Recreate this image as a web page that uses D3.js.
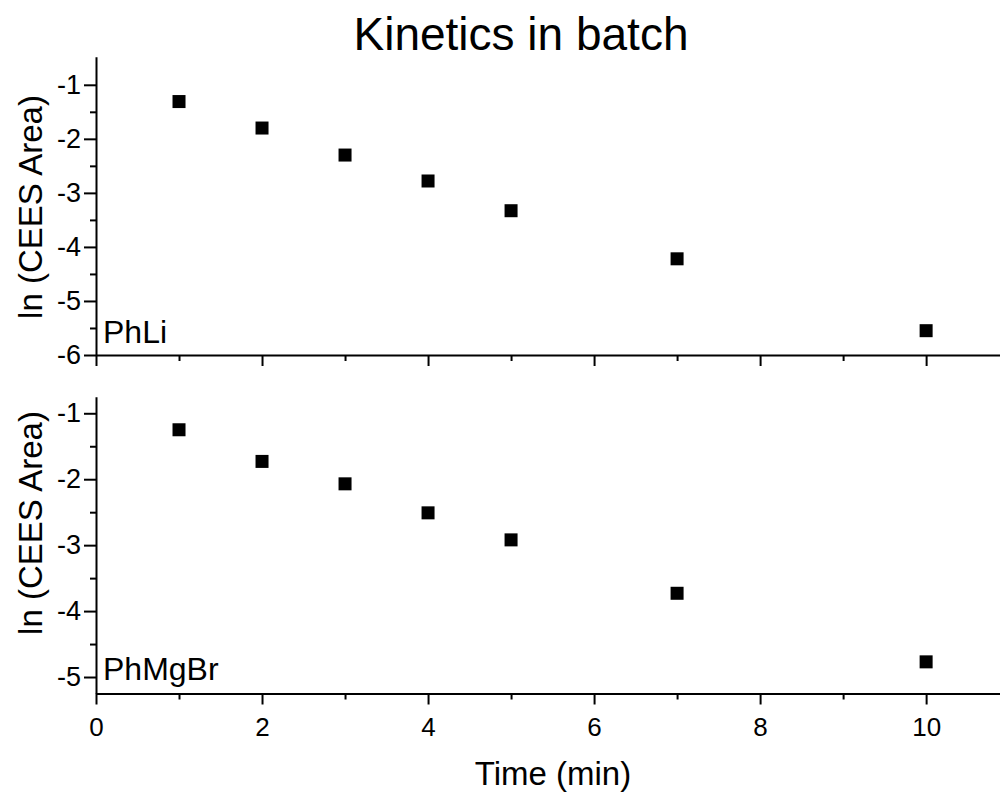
<!DOCTYPE html>
<html>
<head>
<meta charset="utf-8">
<script src="https://cdn.jsdelivr.net/npm/d3@7"></script>
<style>
  body { margin: 0; background: #fff; }
  svg { display: block; font-family: 'Liberation Sans', Arial, sans-serif; }
</style>
</head>
<body>
<script>
const time = [1, 2, 3, 4, 5, 7, 10];
const phLi = [-1.31, -1.80, -2.30, -2.78, -3.33, -4.22, -5.55];
const phMgBr = [-1.25, -1.73, -2.07, -2.51, -2.92, -3.73, -4.77];
const xTicks = [0, 2, 4, 6, 8, 10];
const yTicksTop = [-1, -2, -3, -4, -5, -6];
const yTicksBottom = [-1, -2, -3, -4, -5];

const width = 1000;
const height = 795;
const left = 96;
const right = 1000;

const svg = d3.select('body').append('svg').attr('width', width).attr('height', height);

const x = d3.scaleLinear().domain([0, 10.89]).range([left, right]);

const panels = [
  { name: 'PhLi', values: phLi, domain: [-6, -0.48], range: [355, 56.7], ticks: yTicksTop,
    labelY: 343, titleY: 207, showX: false },
  { name: 'PhMgBr', values: phMgBr, domain: [-5.25, -0.75], range: [693.5, 396.8], ticks: yTicksBottom,
    labelY: 680, titleY: 523, showX: true },
];

function minors(ticks) {
  return ticks.slice(1).map((t, i) => (t + ticks[i]) / 2);
}

function styleAxis(g) {
  g.attr('font-family', null).attr('font-size', null);
  g.select('.domain').attr('stroke', '#000').attr('stroke-width', 2);
  g.selectAll('.tick line').attr('stroke', '#000').attr('stroke-width', 2);
  g.selectAll('.tick text').attr('fill', '#000');
}

panels.forEach(p => {
  const y = d3.scaleLinear().domain(p.domain).range(p.range);
  const bottom = p.range[0];

  // minor x ticks
  svg.append('g')
    .attr('transform', `translate(0,${bottom})`)
    .call(d3.axisBottom(x).tickValues([1, 3, 5, 7, 9]).tickSize(6).tickFormat(''))
    .call(styleAxis)
    .call(g => g.select('.domain').remove());

  svg.append('g')
    .attr('transform', `translate(0,${bottom})`)
    .call(d3.axisBottom(x).tickValues(xTicks).tickSize(11).tickSizeOuter(0).tickPadding(13)
      .tickFormat(p.showX ? d3.format('d') : ''))
    .call(styleAxis)
    .call(g => g.selectAll('.tick text').attr('font-size', 26));

  // minor y ticks
  svg.append('g')
    .attr('transform', `translate(${left},0)`)
    .call(d3.axisLeft(y).tickValues(minors(p.ticks)).tickSize(6).tickFormat(''))
    .call(styleAxis)
    .call(g => g.select('.domain').remove());

  svg.append('g')
    .attr('transform', `translate(${left},0)`)
    .call(d3.axisLeft(y).tickValues(p.ticks).tickSize(12).tickSizeOuter(0).tickPadding(3)
      .tickFormat(d3.format('d')))
    .call(styleAxis)
    .call(g => g.selectAll('.tick text').attr('font-size', 27)
      .text(d => String(d).replace('\u2212', '-')));

  svg.append('g')
    .selectAll('rect')
    .data(time.map((t, i) => ({ t, v: p.values[i] })))
    .enter()
    .append('rect')
    .attr('x', d => x(d.t) - 6.5)
    .attr('y', d => y(d.v) - 6.5)
    .attr('width', 13)
    .attr('height', 13)
    .attr('fill', '#000');

  svg.append('text')
    .attr('x', 103)
    .attr('y', p.labelY)
    .attr('font-size', 32)
    .text(p.name);

  svg.append('text')
    .attr('transform', `translate(42,${p.titleY}) rotate(-90)`)
    .attr('text-anchor', 'middle')
    .attr('font-size', 33)
    .text('ln (CEES Area)');
});

svg.append('text')
  .attr('x', 521)
  .attr('y', 50)
  .attr('text-anchor', 'middle')
  .attr('font-size', 46)
  .text('Kinetics in batch');

svg.append('text')
  .attr('x', 553)
  .attr('y', 785)
  .attr('text-anchor', 'middle')
  .attr('font-size', 33)
  .text('Time (min)');
</script>
</body>
</html>
